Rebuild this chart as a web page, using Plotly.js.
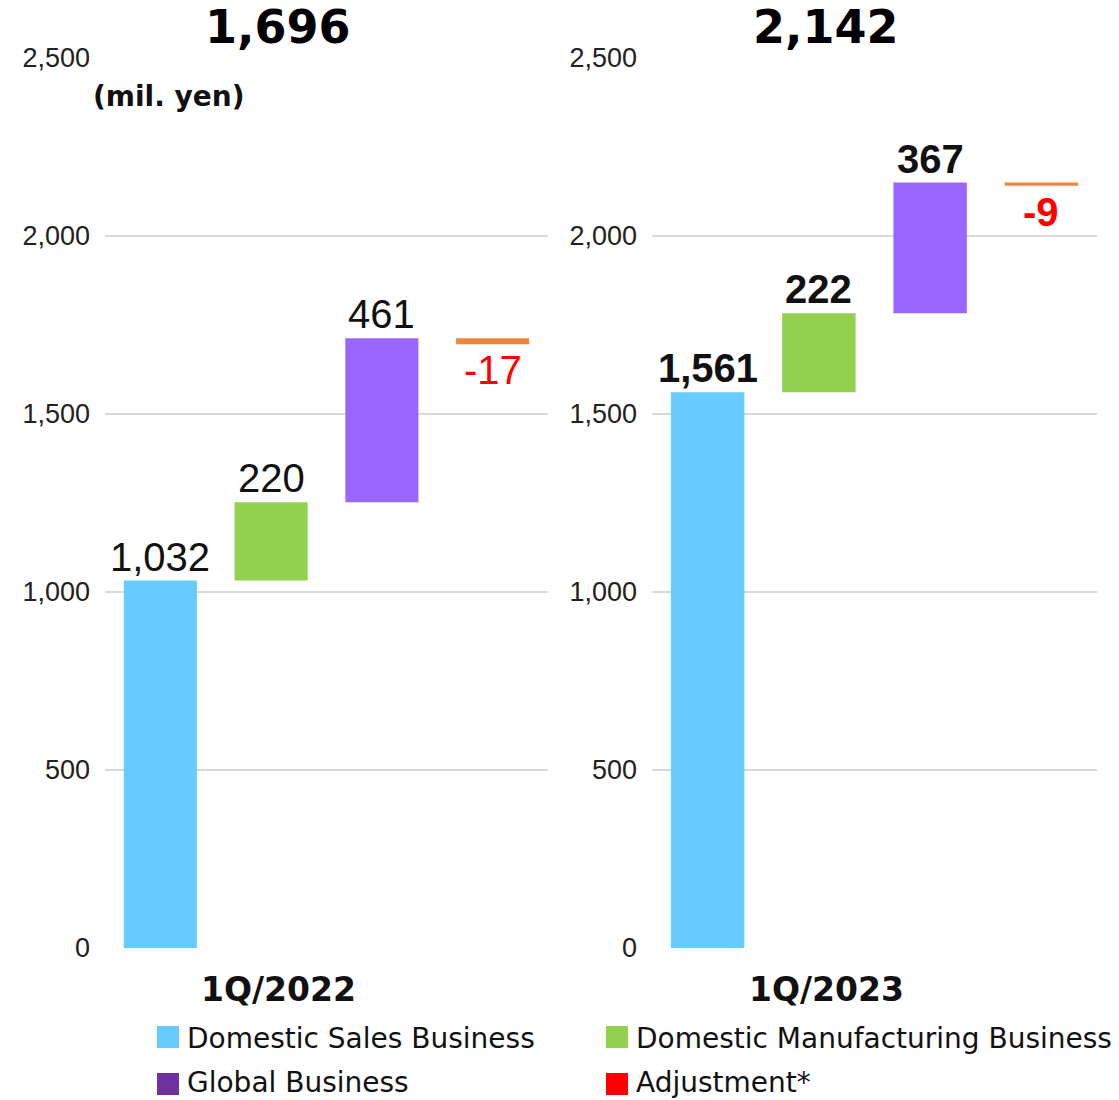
<!DOCTYPE html>
<html>
<head>
<meta charset="utf-8">
<script src="https://cdn.plot.ly/plotly-3.0.1.min.js"></script>
<style>html,body{margin:0;padding:0;background:#fff;}#chart{width:1119px;height:1100px;}</style>
</head>
<body>
<div id="chart"></div>
<script>
// ---- data ----
const categories = ['Domestic Sales Business', 'Domestic Manufacturing Business', 'Global Business', 'Adjustment*'];
const periods = ['1Q/2022', '1Q/2023'];
const values2022 = [1032, 220, 461, -17];
const values2023 = [1561, 222, 367, -9];
const totals = [1696, 2142];
const yTicks = [0, 500, 1000, 1500, 2000, 2500];
const unitLabel = '(mil. yen)';
const legendLabels = ['Domestic Sales Business', 'Domestic Manufacturing Business', 'Global Business', 'Adjustment*'];

// ---- styles ----
const barColors = ['#66CCFF', '#92D050', '#9966FF', '#F0853C'];
const legendColors = ['#66CCFF', '#92D050', '#7030A0', '#FF0000'];
const W = 1119, H = 1100, MT = 58, MB = 152;
const PH = H - MT - MB;
const domLeft = [105 / W, 548 / W];
const domRight = [652 / W, 1097 / W];
const py = p => (H - MB - p) / PH;   // pixel y -> paper y
const px = p => p / W;

function cumBase(vals) {
  const b = []; let s = 0;
  vals.forEach(v => { b.push(s); s += v; });
  return b;
}
const fmt = v => v.toLocaleString('en-US');

const sets = [
  {vals: values2022, xa: 'x', ya: 'y', bold: false},
  {vals: values2023, xa: 'x2', ya: 'y2', bold: true}
];

const traces = [];
const annotations = [];
sets.forEach((s, k) => {
  const base = cumBase(s.vals);
  traces.push({
    type: 'bar', x: categories, y: s.vals, base: base,
    xaxis: s.xa, yaxis: s.ya,
    marker: {color: barColors, line: {width: 0}},
    width: 0.66, hoverinfo: 'skip', showlegend: false
  });
  s.vals.forEach((v, i) => {
    const neg = v < 0;
    annotations.push({
      xref: s.xa, yref: s.ya, x: categories[i],
      y: base[i] + v,
      yanchor: neg ? 'top' : 'bottom',
      yshift: neg ? -2 : 0,
      text: s.bold ? '<b>' + fmt(v) + '</b>' : fmt(v),
      showarrow: false,
      font: {family: 'Liberation Sans, Arial, sans-serif', size: 40, color: neg ? '#FF0000' : '#111111'}
    });
  });
});

// totals and period labels
const centers = [278, 826];
totals.forEach((t, k) => {
  annotations.push({
    xref: 'paper', yref: 'paper', x: px(centers[k]), y: py(27), xanchor: 'center', yanchor: 'middle',
    text: '<b>' + fmt(t) + '</b>', showarrow: false,
    font: {family: 'DejaVu Sans, Verdana, sans-serif', size: 46, color: '#000'}
  });
  annotations.push({
    xref: 'paper', yref: 'paper', x: px(centers[k]), y: py(989), xanchor: 'center', yanchor: 'middle',
    text: '<b>' + periods[k] + '</b>', showarrow: false,
    font: {family: 'DejaVu Sans, Verdana, sans-serif', size: 33, color: '#111'}
  });
});
annotations.push({
  xref: 'paper', yref: 'paper', x: px(91), y: py(97), xanchor: 'left', yanchor: 'middle',
  text: '<b>' + unitLabel + '</b>', showarrow: false,
  font: {family: 'DejaVu Sans, Verdana, sans-serif', size: 28, color: '#111'}
});

// legend (manual)
const legPos = [[157, 1026], [606, 1026], [157, 1073], [606, 1073]];
const shapes = [];
legendLabels.forEach((lab, i) => {
  const [lx, ly] = legPos[i];
  shapes.push({type: 'rect', xref: 'paper', yref: 'paper',
    x0: px(lx), x1: px(lx + 22), y0: py(ly + 22), y1: py(ly),
    fillcolor: legendColors[i], line: {width: 0}});
  annotations.push({
    xref: 'paper', yref: 'paper', x: px(lx + 28), y: py(ly + (i < 2 ? 12 : 9)), xanchor: 'left', yanchor: 'middle',
    text: lab, showarrow: false,
    font: {family: 'DejaVu Sans, Verdana, sans-serif', size: 28, color: '#111'}
  });
});

const yax = () => ({
  range: [0, 2500], tickvals: yTicks, tickformat: ',d',
  showgrid: true, gridcolor: '#D9D9D9', gridwidth: 2,
  zeroline: false, showline: false, ticks: '',
  ticklabelstandoff: 14,
  tickfont: {family: 'Liberation Sans, Arial, sans-serif', size: 27, color: '#222'}
});
const xax = dom => ({
  domain: dom, type: 'category', categoryarray: categories, range: [-0.5, 3.5],
  showticklabels: false, showgrid: false, zeroline: false, showline: false, ticks: ''
});

const layout = {
  width: W, height: H,
  margin: {l: 0, r: 0, t: MT, b: MB},
  paper_bgcolor: '#fff', plot_bgcolor: '#fff',
  showlegend: false,
  xaxis: xax(domLeft),
  xaxis2: xax(domRight),
  yaxis: Object.assign(yax(), {anchor: 'x'}),
  yaxis2: Object.assign(yax(), {anchor: 'x2'}),
  annotations: annotations,
  shapes: shapes
};

Plotly.newPlot('chart', traces, layout, {displayModeBar: false, staticPlot: true});
</script>
</body>
</html>
